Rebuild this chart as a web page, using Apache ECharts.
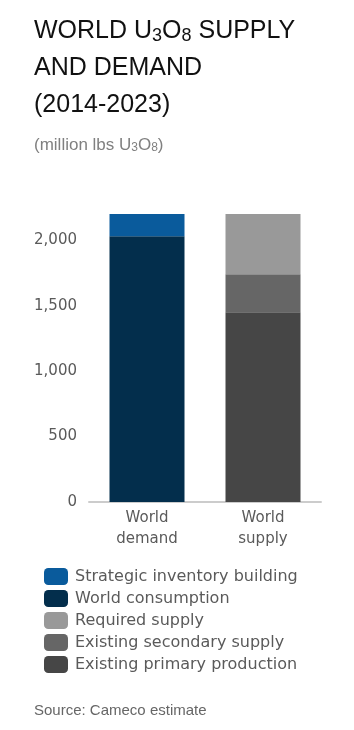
<!DOCTYPE html>
<html>
<head>
<meta charset="utf-8">
<style>
html, body { margin: 0; padding: 0; background: #fff; }
#chart { width: 354px; height: 730px; }
</style>
<script src="https://cdn.jsdelivr.net/npm/echarts@6/dist/echarts.min.js"></script>
</head>
<body>
<div id="chart"></div>
<script>
// values (million lbs U3O8, 2014-2023 cumulative)
var categories = ['World\ndemand', 'World\nsupply'];
var worldConsumption = [2030, '-'];
var strategicInventory = [170, '-'];
var primaryProduction = ['-', 1450];
var secondarySupply = ['-', 290];
var requiredSupply = ['-', 460];

var legendNames = [
    'Strategic inventory building',
    'World consumption',
    'Required supply',
    'Existing secondary supply',
    'Existing primary production'
];

var chart = echarts.init(document.getElementById('chart'));

var option = {
    animation: false,
    title: [
        {
            left: 34,
            top: 13,
            padding: 0,
            text: '{t|WORLD U}{s|3}{t|O}{s|8}{t| SUPPLY}\n{t|AND DEMAND}\n{t|(2014-2023)}',
            textStyle: {
                rich: {
                    t: { fontSize: 25, fontWeight: 'normal', fontFamily: 'Liberation Sans', color: '#111', lineHeight: 37 },
                    s: { fontSize: 18, fontWeight: 'normal', fontFamily: 'Liberation Sans', color: '#111', padding: [9, 0, 0, 0] }
                }
            }
        },
        {
            left: 34,
            top: 136,
            padding: 0,
            text: '{t|(million lbs U}{s|3}{t|O}{s|8}{t|)}',
            textStyle: {
                rich: {
                    t: { fontSize: 17, fontWeight: 'normal', fontFamily: 'Liberation Sans', color: '#808080' },
                    s: { fontSize: 12, fontWeight: 'normal', fontFamily: 'Liberation Sans', color: '#808080', padding: [6, 0, 0, 0] }
                }
            }
        },
        {
            left: 34,
            top: 703,
            padding: 0,
            text: 'Source: Cameco estimate',
            textStyle: { fontSize: 15, fontWeight: 'normal', fontFamily: 'Liberation Sans', color: '#666' }
        }
    ],
    legend: {
        orient: 'vertical',
        left: 44,
        top: 568,
        padding: 0,
        itemWidth: 24,
        itemHeight: 17,
        itemGap: 5,
        data: legendNames,
        textStyle: { fontSize: 16, fontFamily: 'DejaVu Sans', color: '#5a5a5a', padding: [0, 0, 0, 2] }
    },
    grid: {
        left: 89,
        right: 33,
        top: 214,
        bottom: 228
    },
    xAxis: {
        type: 'category',
        data: categories,
        axisLine: { lineStyle: { color: '#cccccc', width: 2 } },
        axisTick: { show: false },
        axisLabel: {
            fontSize: 15,
            fontFamily: 'DejaVu Sans',
            color: '#5a5a5a',
            lineHeight: 21,
            margin: 6
        }
    },
    yAxis: {
        type: 'value',
        min: 0,
        max: 2200,
        interval: 500,
        splitLine: { show: false },
        axisLine: { show: false },
        axisTick: { show: false },
        axisLabel: {
            showMaxLabel: false,
            fontSize: 15,
            fontFamily: 'DejaVu Sans',
            color: '#5a5a5a',
            margin: 12,
            formatter: function (v) { return v.toLocaleString('en-US'); }
        }
    },
    series: [
        { name: 'World consumption', type: 'bar', stack: 'total', barWidth: 75, data: worldConsumption, itemStyle: { color: '#032e4c' } },
        { name: 'Strategic inventory building', type: 'bar', stack: 'total', barWidth: 75, data: strategicInventory, itemStyle: { color: '#0a5b9c' } },
        { name: 'Existing primary production', type: 'bar', stack: 'total', barWidth: 75, data: primaryProduction, itemStyle: { color: '#464646' } },
        { name: 'Existing secondary supply', type: 'bar', stack: 'total', barWidth: 75, data: secondarySupply, itemStyle: { color: '#666666' } },
        { name: 'Required supply', type: 'bar', stack: 'total', barWidth: 75, data: requiredSupply, itemStyle: { color: '#999999' } }
    ]
};

chart.setOption(option);
</script>
</body>
</html>
